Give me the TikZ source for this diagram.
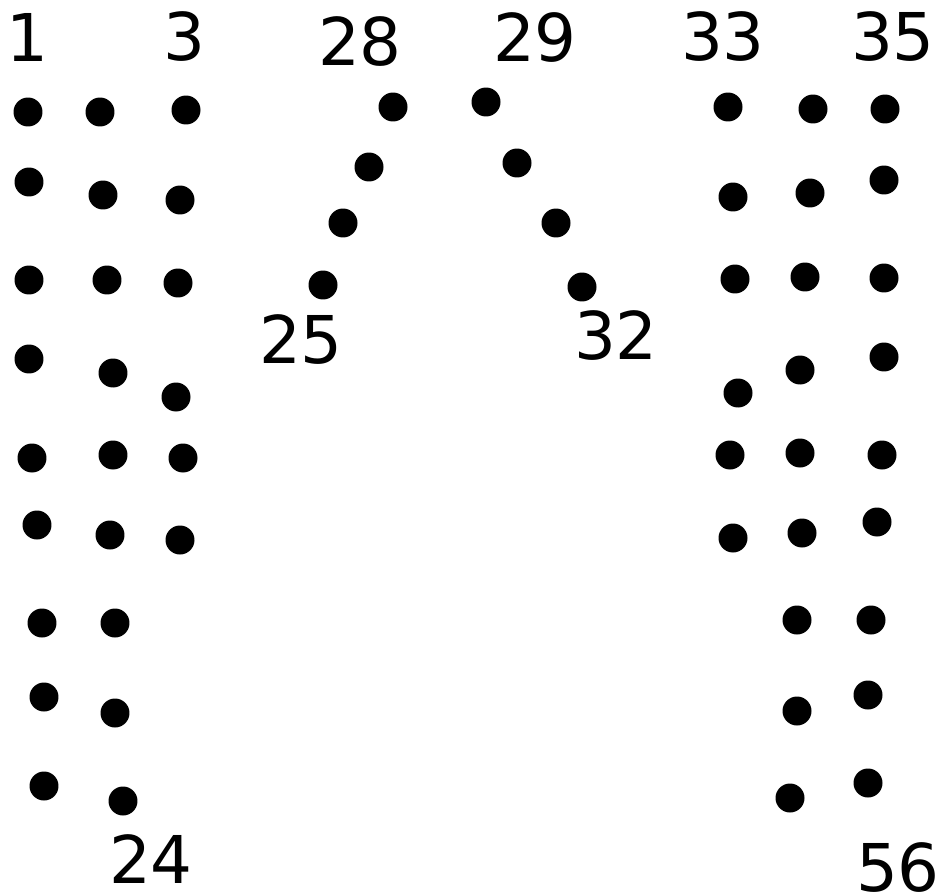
\documentclass[tikz,border=0pt]{standalone}
\usepackage{fontspec}
\setmainfont{DejaVu Sans}
\usetikzlibrary{positioning}

\tikzset{
  pin dot/.style={circle,fill=black,inner sep=0pt,minimum size=0.58cm},
  pin num/.style={inner sep=0pt,font=\fontsize{37.5}{45}\selectfont}
}

\begin{document}
\begin{tikzpicture}[x=0.02cm,y=-0.02cm]
  \useasboundingbox (0,0) rectangle (939,895);
  % left block, pins 1--24
  \foreach \x/\y [count=\i] in {28/112,100/112,186/110, 29/182,103/195,180/200,
      29/280,107/280,178/283, 29/359,113/373,176/397, 32/458,113/455,183/458,
      37/525,110/535,180/540, 42/623,115/623, 44/697,115/713, 44/786,123/801}
    \node[pin dot] (p\i) at (\x,\y) {};
  % middle, pins 25--32
  \foreach \x/\y [count=\i from 25] in {323/285,343/223,369/167,393/107,
      486/102,517/163,556/223,582/287}
    \node[pin dot] (p\i) at (\x,\y) {};
  % right block, pins 33--56
  \foreach \x/\y [count=\i from 33] in {728/107,813/109,885/109, 733/197,810/193,884/180,
      735/279,805/277,884/278, 738/393,800/370,884/357, 730/455,800/453,882/455,
      733/538,802/533,877/522, 797/620,871/620, 797/711,868/695, 790/798,868/783}
    \node[pin dot] (p\i) at (\x,\y) {};
  % numbers
  \node[pin num] (n1) at (27,37) {1};
  \node[pin num] (n3) at (184,37) {3};
  \node[pin num] (n24) at (151,859) {24};
  \node[pin num] (n25) at (301,340) {25};
  \node[pin num] (n28) at (360,42) {28};
  \node[pin num] (n29) at (535,38) {29};
  \node[pin num] (n32) at (616,336) {32};
  \node[pin num] (n33) at (723,37) {33};
  \node[pin num] (n35) at (893,37) {35};
  \node[pin num] (n56) at (898,868) {56};
\end{tikzpicture}
\end{document}
